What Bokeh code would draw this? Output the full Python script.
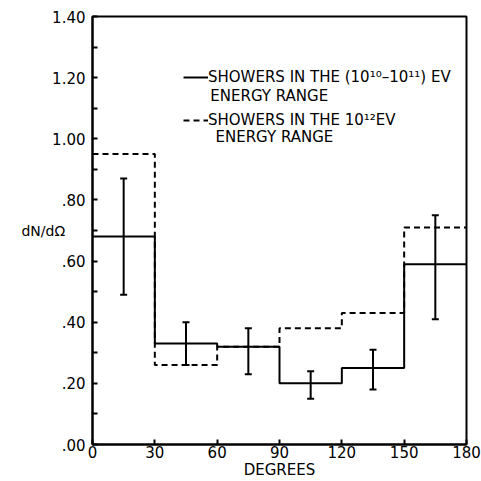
from bokeh.plotting import figure
from bokeh.models import (FixedTicker, CustomJSTickFormatter, Whisker, ColumnDataSource,
                          TeeHead, Label, Legend, LegendItem, Range1d)
from bokeh.embed import file_html
from bokeh.resources import INLINE

# ---- data ----
bin_edges = [0, 30, 60, 90, 120, 150, 180]
bin_centers = [15, 45, 75, 105, 135, 165]
solid_vals = [0.68, 0.33, 0.32, 0.20, 0.25, 0.59]      # (10^10-10^11) eV showers
dashed_vals = [0.95, 0.26, 0.32, 0.38, 0.43, 0.71]     # 10^12 eV showers
err_upper = [0.87, 0.40, 0.38, 0.24, 0.31, 0.75]
err_lower = [0.49, 0.26, 0.23, 0.15, 0.18, 0.41]

x_ticks = [0, 30, 60, 90, 120, 150, 180]
y_major_ticks = [0.0, 0.2, 0.4, 0.6, 0.8, 1.0, 1.2, 1.4]
y_minor_ticks = [0.1, 0.3, 0.5, 0.7, 0.9, 1.1, 1.3]
y_tick_labels = [".00", ".20", ".40", ".60", ".80", "1.00", "1.20", "1.40"]

solid_label = "SHOWERS IN THE (10¹⁰–10¹¹) EV"
dashed_label = "SHOWERS IN THE 10¹²EV"
second_line = "ENERGY RANGE"
x_title = "DEGREES"
y_title = "dN/dΩ"

FONT = "DejaVu Sans"

p = figure(width=481, height=481, output_backend="svg", toolbar_location=None,
           x_range=Range1d(0, 180), y_range=Range1d(0, 1.4),
           min_border_left=92, min_border_right=15, min_border_top=16, min_border_bottom=34)
p.grid.visible = False
p.outline_line_color = "black"
p.outline_line_width = 2
p.background_fill_color = "white"
p.border_fill_color = "white"

solid = p.step(x=bin_edges, y=solid_vals + [solid_vals[-1]], mode="after",
               line_color="black", line_width=2)
dashed = p.step(x=bin_edges, y=dashed_vals + [dashed_vals[-1]], mode="after",
                line_color="black", line_width=2, line_dash="6 4")

src = ColumnDataSource(dict(base=bin_centers, upper=err_upper, lower=err_lower))
p.add_layout(Whisker(base="base", upper="upper", lower="lower", source=src,
                     dimension="height", line_color="black", line_width=2,
                     upper_head=TeeHead(size=7, line_width=2, line_color="black"),
                     lower_head=TeeHead(size=7, line_width=2, line_color="black")))

# axes
for ax in (p.xaxis[0], p.yaxis[0]):
    ax.axis_line_width = 2
    ax.axis_line_color = "black"
    ax.major_tick_line_width = 2
    ax.major_tick_line_color = "black"
    ax.major_tick_in = 5
    ax.major_tick_out = 0
    ax.major_label_text_font = FONT
    ax.major_label_text_font_size = "15px"
    ax.major_label_text_color = "black"
    ax.axis_label_text_font = FONT
    ax.axis_label_text_font_size = "15px"
    ax.axis_label_text_font_style = "normal"
    ax.axis_label_text_color = "black"

p.xaxis.ticker = FixedTicker(ticks=x_ticks)
p.xaxis.minor_tick_line_color = None
p.xaxis.major_label_standoff = 1
p.xaxis.axis_label = x_title
p.xaxis.axis_label_standoff = 0

p.yaxis.ticker = FixedTicker(ticks=y_major_ticks, minor_ticks=y_minor_ticks)
p.yaxis.minor_tick_in = 5
p.yaxis.minor_tick_out = 0
p.yaxis.minor_tick_line_width = 2
p.yaxis.minor_tick_line_color = "black"
p.yaxis.major_label_standoff = 7
p.yaxis.formatter = CustomJSTickFormatter(args=dict(labels=y_tick_labels),
                                          code="return labels[Math.round(tick / 0.2)];")
p.yaxis.axis_label = y_title
p.yaxis.axis_label_orientation = "horizontal"
p.yaxis.axis_label_text_font_size = "14px"
p.yaxis.axis_label_standoff = -16

# legend
legend = Legend(items=[LegendItem(label=solid_label, renderers=[solid]),
                       LegendItem(label=dashed_label, renderers=[dashed])],
                location=(91, 314), glyph_width=25, glyph_height=20, label_height=20,
                label_standoff=0, spacing=23, padding=0, margin=0,
                border_line_alpha=0, background_fill_alpha=0,
                label_text_font=FONT, label_text_font_size="15px", label_text_color="black")
p.add_layout(legend)
p.add_layout(Label(x=56.7, y=1.140, text=second_line, text_font=FONT, text_font_size="15px",
                   text_baseline="middle", text_align="left", text_color="black"))
p.add_layout(Label(x=59.2, y=1.006, text=second_line, text_font=FONT, text_font_size="15px",
                   text_baseline="middle", text_align="left", text_color="black"))

open("out.html", "w").write(file_html(p, INLINE))
